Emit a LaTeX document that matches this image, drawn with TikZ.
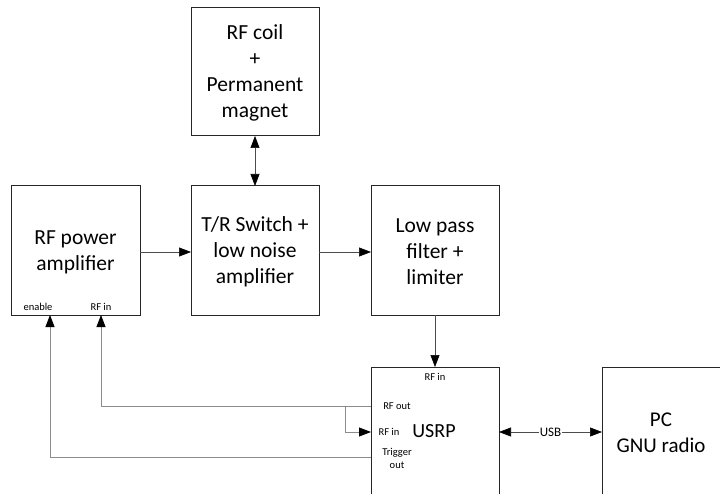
\documentclass[tikz,border=0pt]{standalone}
\usepackage{fontspec}
\setmainfont{Carlito}
\usetikzlibrary{arrows.meta}
\begin{document}
\begin{tikzpicture}[x=1pt,y=-1pt,
  tip/.tip={Triangle[length=12pt,width=9pt,color=black,fill=black]},
  blk/.style={draw=black!85,line width=1pt,inner sep=0pt},
  lbl/.style={font=\fontsize{21.5}{26}\selectfont,align=center},
  small/.style={font=\fontsize{10.5}{12}\selectfont,align=center,inner sep=0pt},
  conn/.style={draw=black!70,line width=0.6pt,-tip},
  fb/.style={draw=black!45,line width=0.8pt,-tip}]
\useasboundingbox (0,0) rectangle (720,494);
% boxes
\draw[blk] (191,8) rectangle (319,136);
\node[lbl] (coil) at (255,73) {RF coil\\+\\Permanent\\magnet};
\coordinate (coilS) at (255,136);
\draw[blk] (11,186) rectangle (140,315);
\node[lbl] (pa) at (75.5,252) {RF power\\amplifier};
\draw[blk] (191,186) rectangle (319,315);
\node[lbl] (tr) at (255,252) {T/R Switch +\\low noise\\amplifier};
\draw[blk] (371,186) rectangle (499,315);
\node[lbl] (lpf) at (435,252) {Low pass\\filter +\\limiter};
\draw[blk] (371,500) -- (371,367) -- (499,367) -- (499,500);
\draw[blk] (602,500) -- (602,367) -- (725,367);
\node[lbl,font=\fontsize{21}{26}\selectfont] (pc) at (661,433) {PC\\GNU radio};
% small labels
\node[small] (en) at (38,307) {enable};
\node[small] (parf) at (101,307) {RF in};
\node[small] (urf) at (435,377) {RF in};
\node[small] (uout) at (397,406) {RF out};
\node[small] (uin) at (389,432) {RF in};
\node[font=\fontsize{20}{24}\selectfont,inner sep=0pt] (usrp) at (434,431) {USRP};
\node[small,font=\fontsize{10.5}{13}\selectfont] (utrig) at (397,458) {Trigger\\out};
% coordinates
\coordinate (trN) at (255,186);
\coordinate (paE) at (140,252);
\coordinate (trW) at (191,252);
\coordinate (trE) at (319,252);
\coordinate (lpfW) at (371,252);
\coordinate (lpfS) at (435,315);
\coordinate (usrpN) at (435,367);
\coordinate (outP) at (371,406);
\coordinate (inP) at (371,432);
\coordinate (trigP) at (371,457);
\coordinate (paRF) at (101,315);
\coordinate (paEn) at (50,315);
\coordinate (br) at (345,406);
\coordinate (usbL) at (499,432);
\coordinate (usbR) at (602,432);
% connectors
\draw[conn,tip-tip] (coilS) -- (trN);
\draw[conn] (paE) -- (trW);
\draw[conn] (trE) -- (lpfW);
\draw[conn] (lpfS) -- (usrpN);
\draw[fb] (outP) -| (paRF);
\draw[fb] (br) |- (inP);
\draw[fb] (trigP) -| (paEn);
\draw[conn,tip-tip] (usbL) -- node[fill=white,inner sep=1pt,font=\fontsize{13}{15}\selectfont] (usb) {USB} (usbR);
\end{tikzpicture}
\end{document}
